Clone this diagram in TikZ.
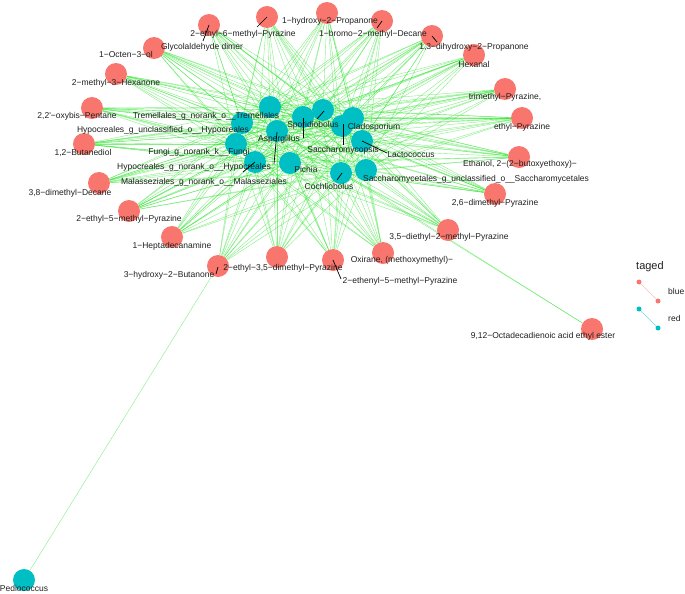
\documentclass[tikz,border=0pt]{standalone}
\usepackage{fontspec}
\setmainfont{Liberation Sans}
\definecolor{rednode}{HTML}{F8766D}
\definecolor{cyannode}{HTML}{00BFC4}
\definecolor{edgegreen}{HTML}{20E020}
\pgfdeclarelayer{background}
\pgfsetlayers{background,main}
\begin{document}
\begin{tikzpicture}[x=1pt,y=-1pt,
  font=\fontsize{8.5}{10}\selectfont,
  rnode/.style={circle,fill=rednode,minimum size=22pt,inner sep=0pt},
  cnode/.style={circle,fill=cyannode,minimum size=22pt,inner sep=0pt},
  lbl/.style={inner sep=0pt,text=black!88},
  edge/.style={draw=edgegreen,opacity=0.55,line width=0.4pt},
  leader/.style={draw=black,line width=0.7pt},
  legpt/.style={circle,inner sep=0pt,minimum size=5pt}]
\useasboundingbox (0,0) rectangle (685,594);
% red nodes
\node[rnode] (r1) at (209,25) {};
\node[rnode] (r2) at (267,17) {};
\node[rnode] (r3) at (327,13) {};
\node[rnode] (r4) at (382,21) {};
\node[rnode] (r5) at (432,36) {};
\node[rnode] (r6) at (474,55) {};
\node[rnode] (r7) at (505,89) {};
\node[rnode] (r8) at (522,118) {};
\node[rnode] (r9) at (519,157) {};
\node[rnode] (r10) at (495,194) {};
\node[rnode] (r11) at (448,230) {};
\node[rnode] (r12) at (383,253) {};
\node[rnode] (r13) at (333,260) {};
\node[rnode] (r14) at (277,257) {};
\node[rnode] (r15) at (218,266) {};
\node[rnode] (r16) at (172,237) {};
\node[rnode] (r17) at (129,211) {};
\node[rnode] (r18) at (99,183) {};
\node[rnode] (r19) at (84,144) {};
\node[rnode] (r20) at (92,108) {};
\node[rnode] (r21) at (116,74) {};
\node[rnode] (r22) at (154,48) {};
\node[rnode] (r23) at (592,329) {};
% cyan nodes
\node[cnode] (c1) at (270,107) {};
\node[cnode] (c13) at (242,123) {};
\node[cnode] (c2) at (303,117) {};
\node[cnode] (c3) at (323,110) {};
\node[cnode] (c4) at (277,131) {};
\node[cnode] (c5) at (236,144) {};
\node[cnode] (c6) at (255,162) {};
\node[cnode] (c7) at (290,163) {};
\node[cnode] (c8) at (341,173) {};
\node[cnode] (c9) at (366,170) {};
\node[cnode] (c10) at (342,126) {};
\node[cnode] (c11) at (353,118) {};
\node[cnode] (c12) at (362,141) {};
\node[cnode] (pd) at (24,580) {};
% edges
\begin{pgfonlayer}{background}
\foreach \r in {1,...,22}{
  \foreach \c in {1,...,13}{
    \draw[edge] (r\r) -- (c\c);
  }
}
\draw[edge] (r23) -- (c4);
\draw[edge] (r23) -- (c8);
\draw[edge] (pd) -- (r15);
\end{pgfonlayer}
% labels of red nodes
\node[lbl] (l1) at (202,47) {Glycolaldehyde dimer};
\node[lbl] (l2) at (243,34) {2−ethyl−6−methyl−Pyrazine};
\node[lbl] (l3) at (330,21) {1−hydroxy−2−Propanone};
\node[lbl] (l4) at (373,34) {1−bromo−2−methyl−Decane};
\node[lbl] (l5) at (474,47) {1,3−dihydroxy−2−Propanone};
\node[lbl] (l6) at (474,64) {Hexanal};
\node[lbl] (l7) at (505,97) {trimethyl−Pyrazine,};
\node[lbl] (l8) at (522,127) {ethyl−Pyrazine};
\node[lbl] (l9) at (520,164) {Ethanol, 2−(2−butoxyethoxy)−};
\node[lbl] (l10) at (495,203) {2,6−dimethyl−Pyrazine};
\node[lbl] (l11) at (449,237) {3,5−diethyl−2−methyl−Pyrazine};
\node[lbl] (l12) at (402,260) {Oxirane, (methoxymethyl)−};
\node[lbl] (l13) at (400,281) {2−ethenyl−5−methyl−Pyrazine};
\node[lbl] (l14) at (283,268) {2−ethyl−3,5−dimethyl−Pyrazine};
\node[lbl] (l15) at (169,275) {3−hydroxy−2−Butanone};
\node[lbl] (l16) at (172,246) {1−Heptadecanamine};
\node[lbl] (l17) at (129,219) {2−ethyl−5−methyl−Pyrazine};
\node[lbl] (l18) at (70,193) {3,8−dimethyl−Decane};
\node[lbl] (l19) at (83,153) {1,2−Butanediol};
\node[lbl] (l20) at (77,116) {2,2\textquotesingle−oxybis−Pentane};
\node[lbl] (l21) at (116,83) {2−methyl−3−Hexanone};
\node[lbl] (l22) at (126,54) {1−Octen−3−ol};
\node[lbl] (l23) at (543,336) {9,12−Octadecadienoic acid ethyl ester};
% labels of cyan nodes
\node[lbl] (k1) at (206,116) {Tremellales\_g\_norank\_o\_\_Tremellales};
\node[lbl] (k13) at (163,130) {Hypocreales\_g\_unclassified\_o\_\_Hypocreales};
\node[lbl] (k5) at (199,152) {Fungi\_g\_norank\_k\_\_Fungi};
\node[lbl] (k6) at (194,167) {Hypocreales\_g\_norank\_o\_\_Hypocreales};
\node[lbl] (k14) at (204,182) {Malasseziales\_g\_norank\_o\_\_Malasseziales};
\node[lbl] (k4) at (279,139) {Aspergillus};
\node[lbl] (k3) at (313,125) {Sporidiobolus};
\node[lbl] (k11) at (374,127) {Cladosporium};
\node[lbl] (k10) at (343,150) {Saccharomycopsis};
\node[lbl] (k12) at (411,155) {Lactococcus};
\node[lbl] (k7) at (306,169) {Pichia};
\node[lbl] (k8) at (329,186) {Cochliobolus};
\node[lbl] (k9) at (476,179) {Saccharomycetales\_g\_unclassified\_o\_\_Saccharomycetales};
\node[lbl] (kp) at (24,588) {Pediococcus};
% leader lines
\coordinate (e1) at (203,41);
\coordinate (e2) at (257,27);
\coordinate (e4) at (377,28);
\coordinate (e5) at (437,42);
\coordinate (e13) at (341,279);
\coordinate (e15a) at (218,267);
\coordinate (e15b) at (216,274);
\coordinate (f3a) at (324,111);
\coordinate (f3b) at (317,119);
\coordinate (f2a) at (303,118);
\coordinate (f2b) at (303,138);
\coordinate (f4a) at (277,132);
\coordinate (f4b) at (274,164);
\coordinate (f6b) at (243,172);
\coordinate (f10a) at (343,124);
\coordinate (f10b) at (343,145);
\coordinate (f12b) at (387,153);
\coordinate (f8a) at (342,173);
\coordinate (f8b) at (337,180);
\draw[leader] (r1.center) -- (e1);
\draw[leader] (r2.center) -- (e2);
\draw[leader] (r4.center) -- (e4);
\draw[leader] (r5.center) -- (e5);
\draw[leader] (r13.center) -- (e13);
\draw[leader] (e15a) -- (e15b);
\draw[leader] (f3a) -- (f3b);
\draw[leader] (f2a) -- (f2b);
\draw[leader] (f4a) -- (f4b);
\draw[leader] (c6.center) -- (f6b);
\draw[leader] (f10a) -- (f10b);
\draw[leader] (c12.center) -- (f12b);
\draw[leader] (f8a) -- (f8b);
% legend
\node[lbl, anchor=west, font=\fontsize{11}{13}\selectfont] (legt) at (636,267) {taged};
\node[legpt, fill=rednode] (lr1) at (639,282) {};
\node[legpt, fill=rednode] (lr2) at (658,301) {};
\draw[rednode!45, line width=0.6pt] (lr1) -- (lr2);
\node[lbl, anchor=west] (lrt) at (668,291) {blue};
\node[legpt, fill=cyannode] (lc1) at (639,309) {};
\node[legpt, fill=cyannode] (lc2) at (658,328) {};
\draw[cyannode!55, line width=0.6pt] (lc1) -- (lc2);
\node[lbl, anchor=west] (lct) at (668,318) {red};
\end{tikzpicture}
\end{document}
